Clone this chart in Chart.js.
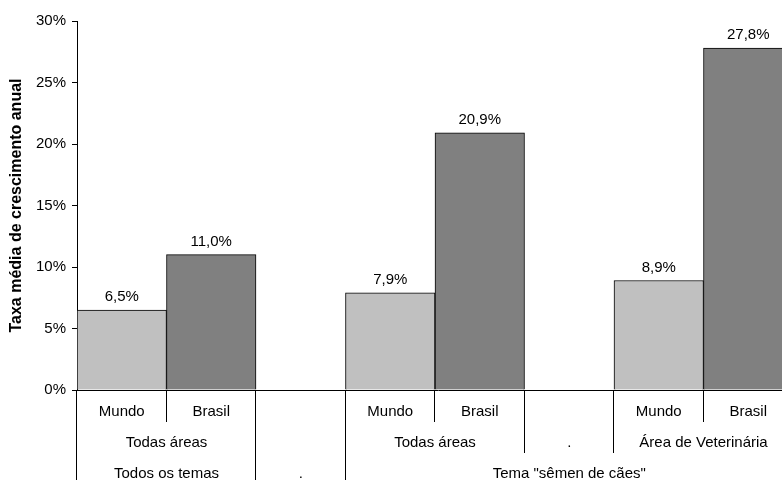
<!DOCTYPE html>
<html>
<head>
<meta charset="utf-8">
<script src="https://cdn.jsdelivr.net/npm/chart.js@4"></script>
<style>
  body { margin: 0; overflow: hidden; background: #fff; }
</style>
</head>
<body>
<canvas id="growthChart" width="800" height="480"></canvas>
<script>
// bar level labels and values (gaps between groups are empty slots)
const barLabels = ["Mundo", "Brasil", "", "Mundo", "Brasil", "", "Mundo", "Brasil"];
const growthRates = [6.5, 11.0, null, 7.9, 20.9, null, 8.9, 27.8];

// second and third label rows, with how many slots each one spans
const areaLabels = ["Todas áreas", "", "Todas áreas", ".", "Área de Veterinária"];
const areaSpans = [2, 1, 2, 1, 2];
const themeLabels = ["Todos os temas", ".", "Tema \"sêmen de cães\""];
const themeSpans = [2, 1, 5];

const yMax = 30;
const yStep = 5;

const FONT = "'Liberation Sans', Arial, sans-serif";
const barColors = barLabels.map(l => (l === "Brasil" ? "#808080" : "#c0c0c0"));

function edgesOf(spans) {
  const out = [0];
  spans.forEach(s => out.push(out[out.length - 1] + s));
  return out;
}

function pct(v) {
  return v.toFixed(1).replace(".", ",") + "%";
}

// value labels above each bar
const barValues = {
  id: "barValues",
  afterDatasetsDraw(chart) {
    const ctx = chart.ctx;
    const meta = chart.getDatasetMeta(0);
    ctx.save();
    ctx.font = "15px " + FONT;
    ctx.fillStyle = "#000";
    ctx.textAlign = "center";
    ctx.textBaseline = "alphabetic";
    meta.data.forEach((bar, i) => {
      const v = growthRates[i];
      if (v == null) return;
      ctx.fillText(pct(v), bar.x, bar.y - 9);
    });
    ctx.restore();
  }
};

// multi-level category labels under the plot, with separators
const categoryRows = {
  id: "categoryRows",
  afterDraw(chart) {
    const ctx = chart.ctx;
    const xs = chart.scales.x;
    const area = chart.chartArea;
    const half = (xs.getPixelForValue(1) - xs.getPixelForValue(0)) / 2;
    const edge = i => xs.getPixelForValue(i) - half;
    const rowText = [area.bottom + 22, area.bottom + 53, area.bottom + 84];
    const rowEnd = [area.bottom + 32, area.bottom + 63, chart.height];
    const areaEdges = edgesOf(areaSpans);
    const themeEdges = edgesOf(themeSpans);

    ctx.save();
    ctx.strokeStyle = "#000";
    ctx.lineWidth = 1;

    // baseline at 0%
    ctx.beginPath();
    ctx.moveTo(area.left, Math.round(area.bottom) + 0.5);
    ctx.lineTo(chart.width, Math.round(area.bottom) + 0.5);
    ctx.stroke();

    // separators: deeper where a higher level group also ends
    for (let b = 0; b <= barLabels.length; b++) {
      let end = rowEnd[0];
      if (areaEdges.includes(b)) end = rowEnd[1];
      if (themeEdges.includes(b)) end = rowEnd[2];
      const px = Math.round(edge(b)) - 0.5;
      ctx.beginPath();
      ctx.moveTo(px, area.bottom);
      ctx.lineTo(px, end);
      ctx.stroke();
    }

    ctx.font = "15px " + FONT;
    ctx.fillStyle = "#000";
    ctx.textAlign = "center";
    ctx.textBaseline = "middle";

    barLabels.forEach((l, i) => {
      if (l) ctx.fillText(l, xs.getPixelForValue(i), rowText[0]);
    });
    areaLabels.forEach((l, i) => {
      const mid = (edge(areaEdges[i]) + edge(areaEdges[i + 1])) / 2;
      if (l) ctx.fillText(l, mid, rowText[1]);
    });
    themeLabels.forEach((l, i) => {
      const mid = (edge(themeEdges[i]) + edge(themeEdges[i + 1])) / 2;
      ctx.fillText(l, mid, rowText[2]);
    });
    ctx.restore();
  }
};

new Chart(document.getElementById("growthChart"), {
  type: "bar",
  data: {
    labels: barLabels,
    datasets: [{
      data: growthRates,
      backgroundColor: barColors,
      borderColor: "#000",
      borderWidth: 1,
      barPercentage: 1,
      categoryPercentage: 1
    }]
  },
  options: {
    responsive: false,
    animation: false,
    layout: { padding: { top: 21, bottom: 90, left: 0, right: 7 } },
    plugins: {
      legend: { display: false },
      tooltip: { enabled: false }
    },
    scales: {
      x: { display: false },
      y: {
        min: 0,
        max: yMax,
        ticks: {
          stepSize: yStep,
          padding: 6,
          color: "#000",
          font: { family: FONT, size: 15 },
          callback: v => v + "%"
        },
        grid: {
          drawOnChartArea: false,
          drawTicks: true,
          tickLength: 5,
          tickColor: "#000"
        },
        border: { color: "#000", width: 1 },
        title: {
          display: true,
          text: "Taxa média de crescimento anual",
          color: "#000",
          font: { family: FONT, size: 16, weight: "bold" },
          padding: { top: 7, bottom: 0 }
        },
        afterFit(scale) {
          scale.width = 77;
        }
      }
    }
  },
  plugins: [barValues, categoryRows]
});
</script>
</body>
</html>
